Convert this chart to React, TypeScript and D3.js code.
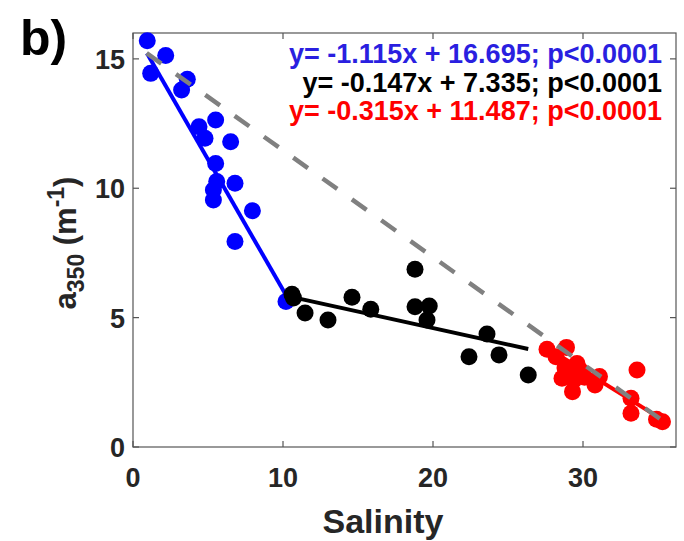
import React from "react";
import * as d3 from "d3";

// ---- data ----
const blueX = [0.95, 2.18, 1.18, 3.62, 3.24, 5.51, 4.4, 6.51, 4.8, 5.51, 6.8, 5.58, 5.36, 5.36, 7.96, 6.8, 10.2];
const blueY = [15.7, 15.13, 14.44, 14.21, 13.8, 12.64, 12.38, 11.8, 11.93, 10.96, 10.19, 10.26, 9.93, 9.55, 9.13, 7.94, 5.62];

const blackX = [10.6, 10.7, 11.47, 13.0, 14.6, 15.85, 18.8, 18.8, 19.75, 19.6, 23.6, 22.4, 24.4, 26.35];
const blackY = [5.9, 5.76, 5.18, 4.91, 5.79, 5.32, 6.87, 5.42, 5.45, 4.91, 4.37, 3.49, 3.56, 2.78];

const redX = [27.6, 28.9, 28.2, 29.6, 29.8, 28.6, 29.4, 29.3, 30.8, 31.1, 33.6, 33.2, 33.2, 34.9, 35.3, 28.8, 30.1];
const redY = [3.78, 3.85, 3.49, 3.23, 2.98, 2.66, 2.59, 2.14, 2.4, 2.72, 2.98, 1.88, 1.3, 1.07, 0.98, 3.05, 2.7];

// fit line end points
const blueFitX = [0.93, 10.33];
const blueFitY = [15.22, 5.74];
const blackFitX = [10.47, 26.35];
const blackFitY = [5.81, 3.79];
const redFitX = [27.3, 35.5];
const redFitY = [3.94, 0.98];
const grayFitX = [0.91, 35.3];
const grayFitY = [15.22, 1.02];

const xTicks = [0, 10, 20, 30];
const yTicks = [0, 5, 10, 15];

const equations = [
  { text: "y= -1.115x + 16.695; p<0.0001", color: "#2a1fe0" },
  { text: "y= -0.147x + 7.335; p<0.0001", color: "#000000" },
  { text: "y= -0.315x + 11.487; p<0.0001", color: "#ff0000" },
];

const W = 684;
const H = 541;
const L = 133, R = 676, T = 33, B = 447;

export default function App() {
  const x = d3.scaleLinear().domain([0, 36.2]).range([L, R]);
  const y = d3.scaleLinear().domain([0, 16]).range([B, T]);
  const line = d3
    .line<[number, number]>()
    .x((d) => x(d[0]))
    .y((d) => y(d[1]));
  const pts = (xs: number[], ys: number[]) => xs.map((v, i) => [v, ys[i]] as [number, number]);

  const font = "'Liberation Sans', Arial, Helvetica, sans-serif";
  const axisColor = "#555555";
  const tickLen = 6;

  return (
    <svg
      width={W}
      height={H}
      style={{ position: "absolute", left: 0, top: 0, background: "#fff" }}
      fontFamily={font}
    >
      <rect x={0} y={0} width={W} height={H} fill="#fff" />
      {/* box */}
      <rect x={L} y={T} width={R - L} height={B - T} fill="none" stroke={axisColor} strokeWidth={1.2} />
      {xTicks.map((t) => (
        <g key={"xt" + t}>
          <line x1={x(t)} x2={x(t)} y1={B} y2={B - tickLen} stroke={axisColor} strokeWidth={1.2} />
          <line x1={x(t)} x2={x(t)} y1={T} y2={T + tickLen} stroke={axisColor} strokeWidth={1.2} />
          <text x={x(t)} y={B + 40} textAnchor="middle" fontSize={27} fontWeight="bold" fill="#262626">
            {t}
          </text>
        </g>
      ))}
      {yTicks.map((t) => (
        <g key={"yt" + t}>
          <line x1={L} x2={L + tickLen} y1={y(t)} y2={y(t)} stroke={axisColor} strokeWidth={1.2} />
          <line x1={R} x2={R - tickLen} y1={y(t)} y2={y(t)} stroke={axisColor} strokeWidth={1.2} />
          <text x={L - 8} y={y(t) + 10} textAnchor="end" fontSize={27} fontWeight="bold" fill="#262626">
            {t}
          </text>
        </g>
      ))}

      {/* points */}
      {pts(blueX, blueY).map((d, i) => (
        <circle key={"b" + i} cx={x(d[0])} cy={y(d[1])} r={8.5} fill="#0000ff" />
      ))}
      <path d={line(pts(blueFitX, blueFitY)) || ""} stroke="#0000ff" strokeWidth={4} fill="none" />
      {pts(blackX, blackY).map((d, i) => (
        <circle key={"k" + i} cx={x(d[0])} cy={y(d[1])} r={8.5} fill="#000000" />
      ))}
      <path d={line(pts(blackFitX, blackFitY)) || ""} stroke="#000000" strokeWidth={4} fill="none" />
      {pts(redX, redY).map((d, i) => (
        <circle key={"r" + i} cx={x(d[0])} cy={y(d[1])} r={8.5} fill="#ff0000" />
      ))}
      <path d={line(pts(redFitX, redFitY)) || ""} stroke="#ff0000" strokeWidth={4} fill="none" />
      <path
        d={line(pts(grayFitX, grayFitY)) || ""}
        stroke="#808080"
        strokeWidth={4.5}
        strokeDasharray="18 18"
        fill="none"
      />

      {/* equations */}
      {equations.map((e, i) => (
        <text
          key={"eq" + i}
          x={662}
          y={63 + i * 28.5}
          textAnchor="end"
          fontSize={27}
          fontWeight="bold"
          fill={e.color}
        >
          {e.text}
        </text>
      ))}

      {/* axis labels */}
      <text x={383} y={533} textAnchor="middle" fontSize={34} fontWeight="bold" fill="#262626">
        Salinity
      </text>
      <g transform="translate(76,243) rotate(-90)">
        <text textAnchor="middle" fontSize={31} fontWeight="bold" fill="#262626">
          <tspan>a</tspan>
          <tspan fontSize={23} dy={8}>350</tspan>
          <tspan dy={-8}> (m</tspan>
          <tspan fontSize={23} dy={-12}>-1</tspan>
          <tspan dy={12}>)</tspan>
        </text>
      </g>

      {/* panel label */}
      <text x={20} y={55} fontSize={50} fontWeight="bold" fill="#000">
        b)
      </text>
    </svg>
  );
}
